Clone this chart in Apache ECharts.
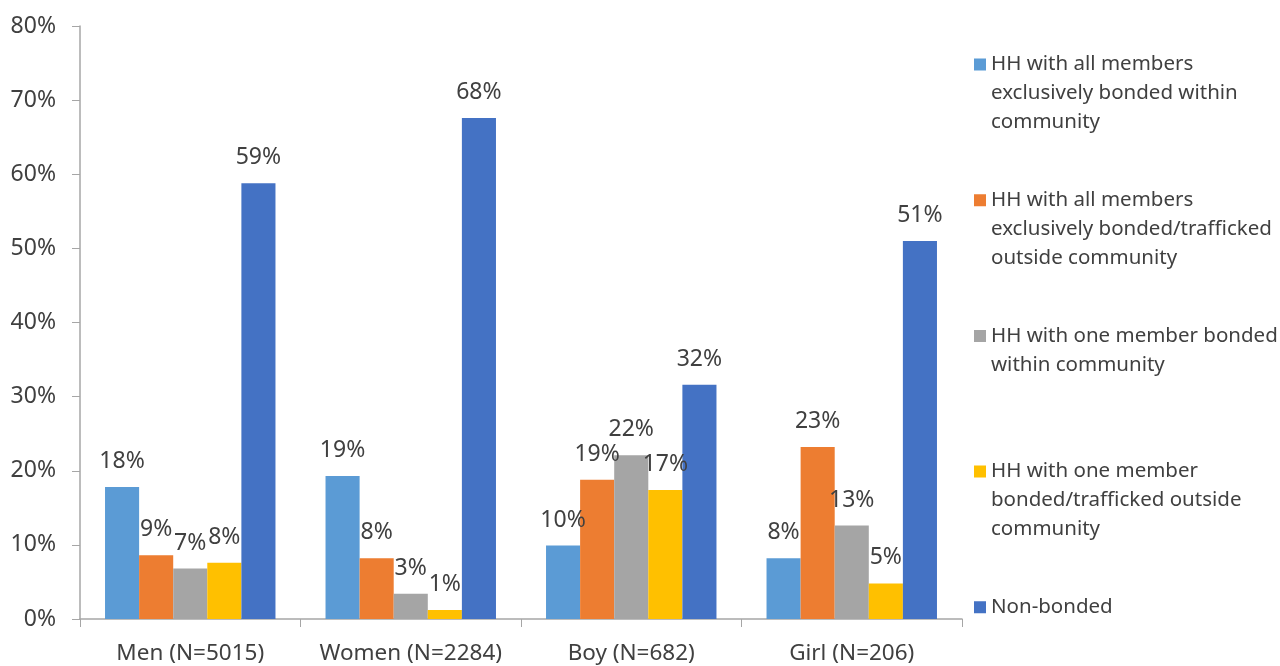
<!DOCTYPE html>
<html>
<head>
<meta charset="utf-8">
<script src="https://cdn.jsdelivr.net/npm/echarts@6/dist/echarts.min.js"></script>
<style>
  html, body { margin: 0; padding: 0; background: #fff; }
  #chart { width: 1280px; height: 666px; }
</style>
</head>
<body>
<div id="chart"></div>
<script>
// data (percent)
const categories = ['Men (N=5015)', 'Women (N=2284)', 'Boy (N=682)', 'Girl (N=206)'];
const seriesNames = [
    'HH with all members exclusively bonded within community',
    'HH with all members exclusively bonded/trafficked outside community',
    'HH with one member bonded within community',
    'HH with one member bonded/trafficked outside community',
    'Non-bonded'
];
// legend text as wrapped in the picture (padded to three lines each)
const legendLines = [
    'HH with all members\nexclusively bonded within\ncommunity',
    'HH with all members\nexclusively bonded/trafficked\noutside community',
    'HH with one member bonded\nwithin community\n ',
    'HH with one member\nbonded/trafficked outside\ncommunity',
    'Non-bonded\n \n '
];
const allWithin = [17.8, 19.3, 9.9, 8.2];
const allOutside = [8.6, 8.2, 18.8, 23.2];
const oneWithin = [6.8, 3.4, 22.1, 12.6];
const oneOutside = [7.6, 1.2, 17.4, 4.8];
const nonBonded = [58.8, 67.6, 31.6, 51.0];
const colors = ['#5B9BD5', '#ED7D31', '#A5A5A5', '#FFC000', '#4472C4'];
const yTicks = { min: 0, max: 80, interval: 10 };

const textColor = '#404040';
const fontFamily = '"Noto Sans", "Open Sans", sans-serif';
const allData = [allWithin, allOutside, oneWithin, oneOutside, nonBonded];

const chart = echarts.init(document.getElementById('chart'), null, { renderer: 'canvas' });

const series = seriesNames.map((name, i) => ({
    name: name,
    type: 'bar',
    data: allData[i],
    barGap: '0%',
    barCategoryGap: '22.7%',
    itemStyle: { color: colors[i] },
    label: {
        show: true,
        position: 'top',
        distance: 14,
        color: textColor,
        fontFamily: fontFamily,
        fontSize: 23,
        formatter: p => Math.round(p.value) + '%'
    }
}));

chart.setOption({
    animation: false,
    color: colors,
    textStyle: { fontFamily: fontFamily },
    grid: { left: 80, right: 318, top: 26, bottom: 47 },
    legend: {
        orient: 'vertical',
        left: 969,
        top: 45,
        height: 640,
        itemGap: 48.7,
        itemWidth: 12,
        itemHeight: 87,
        // square sitting on the first text line, tiny corners keep the box tall
        icon: 'path://M0,0L0.01,0L0,0.01Z M0,8.5L12,8.5L12,20.5L0,20.5Z M0,87L0.01,87L0,86.99Z',
        formatter: name => legendLines[seriesNames.indexOf(name)],
        textStyle: {
            color: textColor,
            fontFamily: fontFamily,
            fontSize: 20.5,
            lineHeight: 29
        },
        data: seriesNames
    },
    xAxis: {
        type: 'category',
        data: categories,
        axisLine: { lineStyle: { color: '#A6A6A6', width: 1.5 } },
        axisTick: { show: true, interval: 0, length: 8, lineStyle: { color: '#A6A6A6' } },
        axisLabel: {
            interval: 0,
            color: textColor,
            fontFamily: fontFamily,
            fontSize: 22.5,
            margin: 23
        }
    },
    yAxis: {
        type: 'value',
        min: yTicks.min,
        max: yTicks.max,
        interval: yTicks.interval,
        splitLine: { show: false },
        axisLine: { show: true, lineStyle: { color: '#A6A6A6', width: 1.5 } },
        axisTick: { show: true, length: 8, lineStyle: { color: '#A6A6A6' } },
        axisLabel: {
            color: textColor,
            fontFamily: fontFamily,
            fontSize: 23,
            margin: 24,
            formatter: '{value}%'
        }
    },
    series: series
});
</script>
</body>
</html>
